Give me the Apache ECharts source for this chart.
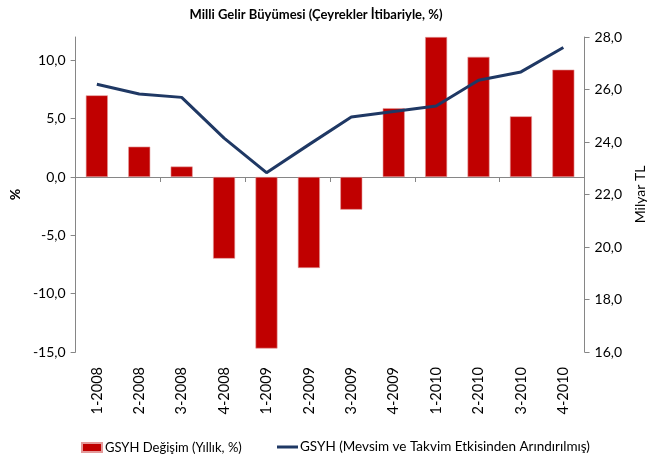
<!DOCTYPE html>
<html>
<head>
<meta charset="utf-8">
<script src="https://cdn.jsdelivr.net/npm/echarts@6/dist/echarts.min.js"></script>
<style>
  html, body { margin: 0; padding: 0; background: #fff; }
  #main { width: 655px; height: 464px; }
</style>
</head>
<body>
<div id="main"></div>
<script>
var quarters = ["1-2008", "2-2008", "3-2008", "4-2008", "1-2009", "2-2009",
  "3-2009", "4-2009", "1-2010", "2-2010", "3-2010", "4-2010"];
// yillik degisim, %
var growthYoY = [7.0, 2.6, 0.9, -7.0, -14.7, -7.8, -2.8, 5.9, 12.0, 10.3, 5.2, 9.2];
// mevsim ve takvim etkisinden arindirilmis, milyar TL
var gdpAdjusted = [26.2, 25.83, 25.7, 24.15, 22.83, 23.9, 24.95, 25.16, 25.37, 26.35, 26.67, 27.6];
var leftTicks = [-15, -10, -5, 0, 5, 10];
var rightTicks = [16, 18, 20, 22, 24, 26, 28];

var barName = "GSYH Değişim (Yıllık, %)";
var lineName = "GSYH (Mevsim ve Takvim Etkisinden Arındırılmış)";
var fontName = "Lato, sans-serif";
var comma = function (v) { return v.toFixed(1).replace(".", ","); };

var myChart = echarts.init(document.getElementById("main"));
var option = {
  animation: false,
  textStyle: { fontFamily: fontName, color: "#000" },
  title: {
    text: "Milli Gelir Büyümesi (Çeyrekler İtibariyle, %)",
    left: 311,
    textAlign: "center",
    top: 3,
    textStyle: { fontSize: 13, fontWeight: "bold", fontFamily: fontName, color: "#000" }
  },
  // two legends so the line item can use a thin bar icon
  legend: [
    {
      bottom: 5,
      left: 76,
      itemWidth: 20,
      itemHeight: 9,
      icon: "rect",
      textStyle: { fontSize: 13, fontFamily: fontName, color: "#000", padding: [0, 0, 0, -2] },
      data: [barName]
    },
    {
      bottom: 5,
      left: 272,
      itemWidth: 21,
      itemHeight: 3,
      icon: "rect",
      textStyle: { fontSize: 13.5, fontFamily: fontName, color: "#000", padding: [0, 0, 0, -3] },
      data: [lineName]
    }
  ],
  grid: { left: 72, right: 65, top: 37, bottom: 112 },
  xAxis: [
    {
      type: "category",
      data: quarters,
      position: "bottom",
      axisLine: { show: false, onZero: false },
      axisTick: { show: false },
      axisLabel: { rotate: 90, margin: 15, fontSize: 14.5, fontFamily: fontName, color: "#000" }
    },
    {
      type: "category",
      data: quarters,
      position: "bottom",
      axisLine: { show: true, onZero: true, lineStyle: { color: "#868686", width: 1 } },
      axisTick: { show: true, length: 5, lineStyle: { color: "#868686" } },
      axisLabel: { show: false }
    }
  ],
  yAxis: [
    {
      type: "value",
      name: "%",
      nameLocation: "middle",
      nameGap: 52,
      nameTextStyle: { fontSize: 14, fontWeight: "bold", fontFamily: fontName, color: "#000" },
      min: -15,
      max: 12,
      splitLine: { show: false },
      axisLine: { show: true, lineStyle: { color: "#868686" } },
      axisTick: { show: true, length: 5, customValues: leftTicks, lineStyle: { color: "#868686" } },
      axisLabel: { customValues: leftTicks, formatter: comma, fontSize: 14, margin: 10, fontFamily: fontName, color: "#000" }
    },
    {
      type: "value",
      name: "Milyar TL",
      nameLocation: "middle",
      nameGap: 45,
      nameRotate: 90,
      nameTextStyle: { fontSize: 14, fontFamily: fontName, color: "#000" },
      min: 16,
      max: 28,
      interval: 2,
      position: "right",
      splitLine: { show: false },
      axisLine: { show: true, lineStyle: { color: "#868686" } },
      axisTick: { show: true, length: 5, lineStyle: { color: "#868686" } },
      axisLabel: { customValues: rightTicks, formatter: comma, fontSize: 14, margin: 10, fontFamily: fontName, color: "#000" }
    }
  ],
  series: [
    {
      name: barName,
      type: "bar",
      xAxisIndex: 0,
      yAxisIndex: 0,
      barWidth: 22,
      data: growthYoY,
      itemStyle: { color: "#C00000", borderColor: "#E39A9A", borderWidth: 0.6 }
    },
    {
      name: lineName,
      type: "line",
      xAxisIndex: 0,
      yAxisIndex: 1,
      data: gdpAdjusted,
      symbol: "none",
      lineStyle: { color: "#1F3864", width: 3 },
      itemStyle: { color: "#1F3864" }
    }
  ]
};
myChart.setOption(option);
</script>
</body>
</html>
